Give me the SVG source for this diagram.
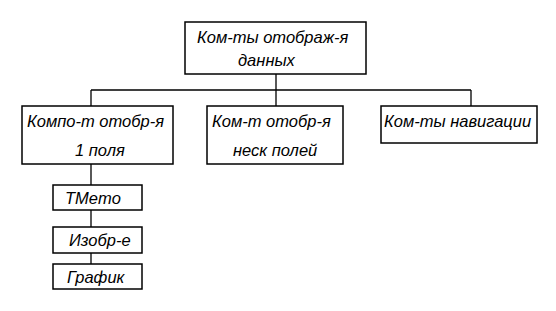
<svg xmlns="http://www.w3.org/2000/svg" width="556" height="311" viewBox="0 0 556 311">
<style>
.b{fill:#fff;stroke:#000;stroke-width:1.5}
.t{font-family:"Liberation Sans",Arial,sans-serif;font-style:italic;font-size:16.5px;fill:#000}
.c{fill:none;stroke:#000;stroke-width:1.3}
</style>
<rect width="556" height="311" fill="#fff"/>
<g id="connectors">
<path class="c" d="M276 74V106M91 90H471M91 90V106M471 90V106M91 164V185M91 210V227M91 253V264"/>
</g>
<g id="n-top">
<rect class="b" x="185" y="22" width="181" height="52"/>
<text class="t" x="197" y="43">Ком-ты отображ-я</text>
<text class="t" x="238" y="66">данных</text>
</g>
<g id="n-one">
<rect class="b" x="22" y="106" width="151" height="58"/>
<text class="t" x="27" y="127">Компо-т отобр-я</text>
<text class="t" x="75" y="156">1 поля</text>
</g>
<g id="n-many">
<rect class="b" x="207" y="106" width="136" height="58"/>
<text class="t" x="212" y="127">Ком-т отобр-я</text>
<text class="t" x="233" y="156">неск полей</text>
</g>
<g id="n-nav">
<rect class="b" x="381" y="106" width="156" height="37"/>
<text class="t" x="384" y="127">Ком-ты навигации</text>
</g>
<g id="n-tmemo">
<rect class="b" x="53" y="185" width="89" height="25"/>
<text class="t" x="65" y="204">TMemo</text>
</g>
<g id="n-img">
<rect class="b" x="53" y="227" width="89" height="26"/>
<text class="t" x="69" y="246">Изобр-е</text>
</g>
<g id="n-graph">
<rect class="b" x="53" y="264" width="89" height="25"/>
<text class="t" x="67" y="283">График</text>
</g>
</svg>
